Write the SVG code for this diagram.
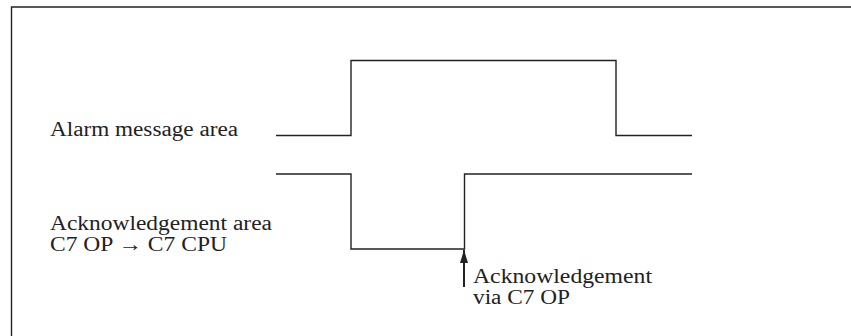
<svg xmlns="http://www.w3.org/2000/svg" width="851" height="336" viewBox="0 0 851 336">
<style>
.ln{fill:none;stroke:#222;stroke-width:1.4}
.t{font-family:"Liberation Serif",serif;font-size:20px;fill:#222}
</style>
<defs>
<marker id="ah" viewBox="0 0 13 8" refX="13" refY="4" markerWidth="13" markerHeight="8" markerUnits="userSpaceOnUse" orient="auto"><path d="M0,0 L13,4 L0,8 Z" fill="#222"/></marker>
</defs>
<rect width="851" height="336" fill="#fff"/>
<g id="frame"><path class="ln" d="M11.5,336 V7 H851"/></g>
<g id="alarm-label"><text class="t" x="50" y="136" textLength="188" lengthAdjust="spacingAndGlyphs">Alarm message area</text></g>
<g id="ack-label"><text class="t" x="50" y="230" textLength="222" lengthAdjust="spacingAndGlyphs">Acknowledgement area</text><text class="t" x="50" y="251" textLength="177" lengthAdjust="spacingAndGlyphs">C7 OP → C7 CPU</text></g>
<g id="ack-note"><text class="t" x="473" y="283" textLength="179" lengthAdjust="spacingAndGlyphs">Acknowledgement</text><text class="t" x="473" y="304" textLength="97" lengthAdjust="spacingAndGlyphs">via C7 OP</text></g>
<g id="connectors">
<path id="alarm-signal" class="ln" d="M276,135.5 H351 V60.5 H616 V135.5 H692"/>
<path id="ack-signal" class="ln" d="M276,174 H351 V249 H464.5 V174 H692"/>
<line id="ack-arrow" x1="464" y1="287" x2="464" y2="250" stroke="#222" stroke-width="2" marker-end="url(#ah)"/>
</g>
</svg>
